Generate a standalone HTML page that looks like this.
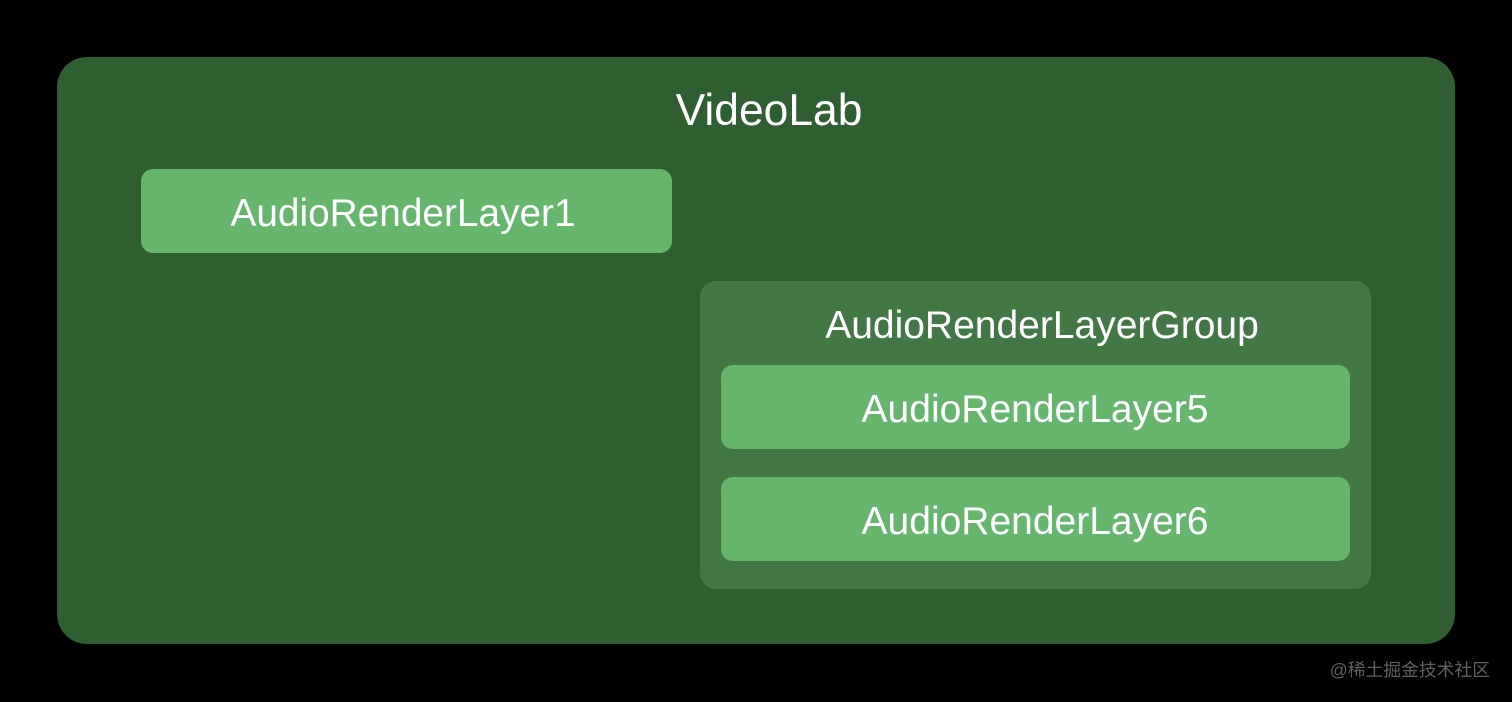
<!DOCTYPE html>
<html><head><meta charset="utf-8"><style>
html,body{margin:0;padding:0;background:#000;width:1512px;height:702px;overflow:hidden}
div{position:absolute;box-sizing:border-box}
.t{font-family:"Liberation Sans",sans-serif;color:#fff;white-space:nowrap;text-align:center;filter:blur(.3px)}
.b{background:#66b56c;border-radius:12px}
</style></head><body>
<div style="left:57px;top:57px;width:1398px;height:587px;background:#2f5f30;border-radius:30px"></div>
<div class="t" style="left:569px;top:85px;width:400px;font-size:44.4px;line-height:52px">VideoLab</div>
<div class="b" style="left:141px;top:169px;width:531px;height:84px"></div>
<div class="t" style="left:153px;top:191px;width:500px;font-size:38.8px;line-height:46px">AudioRenderLayer1</div>
<div style="left:700px;top:281px;width:671px;height:308px;background:#437746;border-radius:16px"></div>
<div class="t" style="left:792px;top:303px;width:500px;font-size:39px;line-height:46px">AudioRenderLayerGroup</div>
<div class="b" style="left:721px;top:365px;width:629px;height:84px"></div>
<div class="t" style="left:785px;top:387px;width:500px;font-size:39px;line-height:46px">AudioRenderLayer5</div>
<div class="b" style="left:721px;top:477px;width:629px;height:84px"></div>
<div class="t" style="left:785px;top:499px;width:500px;font-size:39px;line-height:46px">AudioRenderLayer6</div>
<div style="right:22px;top:659px;font-family:'Liberation Sans','Noto Sans CJK SC',sans-serif;font-size:17.8px;line-height:22px;color:#606060;white-space:nowrap;filter:blur(.3px)">@稀土掘金技术社区</div>
</body></html>
